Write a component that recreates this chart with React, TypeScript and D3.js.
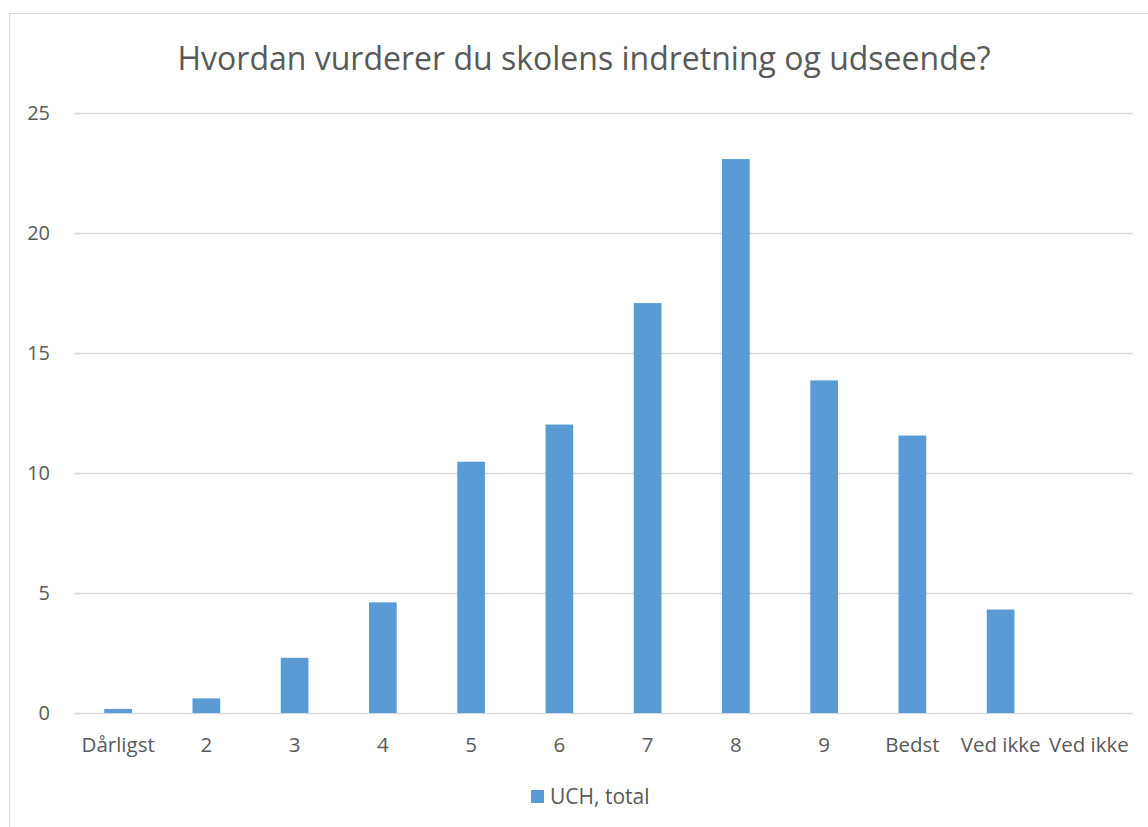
import React, { useEffect, useRef } from 'react'
import * as d3 from 'd3'

const categories = ['Dårligst', '2', '3', '4', '5', '6', '7', '8', '9', 'Bedst', 'Ved ikke', 'Ved ikke ']
const values = [0.17, 0.61, 2.3, 4.61, 10.47, 12.02, 17.08, 23.08, 13.86, 11.56, 4.31, 0]
const yTicks = [0, 5, 10, 15, 20, 25]
const seriesName = 'UCH, total'
const title = 'Hvordan vurderer du skolens indretning og udseende?'

const App = () => {
  const chartRef = useRef<SVGSVGElement>(null)

  useEffect(() => {
    const width = 1148
    const height = 827
    const margin = { top: 113, right: 15, bottom: 114, left: 74 }
    const font = '"Open Sans", sans-serif'

    const svg = d3.select(chartRef.current).attr('width', width).attr('height', height)
    svg.selectAll('*').remove()

    // outer chart border (cropped on right and bottom)
    svg
      .append('rect')
      .attr('x', 9.5)
      .attr('y', 13.5)
      .attr('width', width + 20)
      .attr('height', height + 20)
      .attr('fill', '#fff')
      .attr('stroke', '#d9d9d9')

    const x = d3
      .scaleBand()
      .domain(categories)
      .range([margin.left, width - margin.right])
      .paddingInner(0.686)
      .paddingOuter(0.343)

    const y = d3
      .scaleLinear()
      .domain([0, 25])
      .range([height - margin.bottom, margin.top])

    // gridlines
    svg
      .append('g')
      .selectAll('line')
      .data(yTicks)
      .join('line')
      .attr('x1', margin.left)
      .attr('x2', width - margin.right)
      .attr('y1', (d) => Math.round(y(d)) + 0.5)
      .attr('y2', (d) => Math.round(y(d)) + 0.5)
      .attr('stroke', '#d9d9d9')
      .attr('stroke-width', 1.3)

    // y labels
    svg
      .append('g')
      .selectAll('text')
      .data(yTicks)
      .join('text')
      .attr('x', 50)
      .attr('y', (d) => y(d))
      .attr('dy', '0.35em')
      .attr('text-anchor', 'end')
      .attr('font-family', font)
      .attr('font-size', 20)
      .attr('fill', '#595959')
      .text((d) => d)

    // bars
    svg
      .append('g')
      .selectAll('rect')
      .data(values)
      .join('rect')
      .attr('x', (d, i) => x(categories[i]) as number)
      .attr('y', (d) => y(d))
      .attr('width', x.bandwidth())
      .attr('height', (d) => y(0) - y(d))
      .attr('fill', '#5b9bd5')

    // x labels
    svg
      .append('g')
      .selectAll('text')
      .data(categories)
      .join('text')
      .attr('x', (d) => (x(d) as number) + x.bandwidth() / 2)
      .attr('y', 752)
      .attr('text-anchor', 'middle')
      .attr('font-family', font)
      .attr('font-size', 20.5)
      .attr('fill', '#595959')
      .text((d) => d.trim())

    // title
    svg
      .append('text')
      .attr('x', 584)
      .attr('y', 70)
      .attr('text-anchor', 'middle')
      .attr('font-family', font)
      .attr('font-size', 32)
      .attr('fill', '#595959')
      .text(title)

    // legend
    const legend = svg.append('g')
    legend
      .append('rect')
      .attr('x', 531)
      .attr('y', 790)
      .attr('width', 13)
      .attr('height', 13)
      .attr('fill', '#5b9bd5')
    legend
      .append('text')
      .attr('x', 550)
      .attr('y', 804)
      .attr('font-family', font)
      .attr('font-size', 21)
      .attr('fill', '#595959')
      .text(seriesName)
  }, [])

  return (
    <div style={{ position: 'absolute', left: 0, top: 0 }}>
      <svg ref={chartRef}></svg>
    </div>
  )
}

export default App
